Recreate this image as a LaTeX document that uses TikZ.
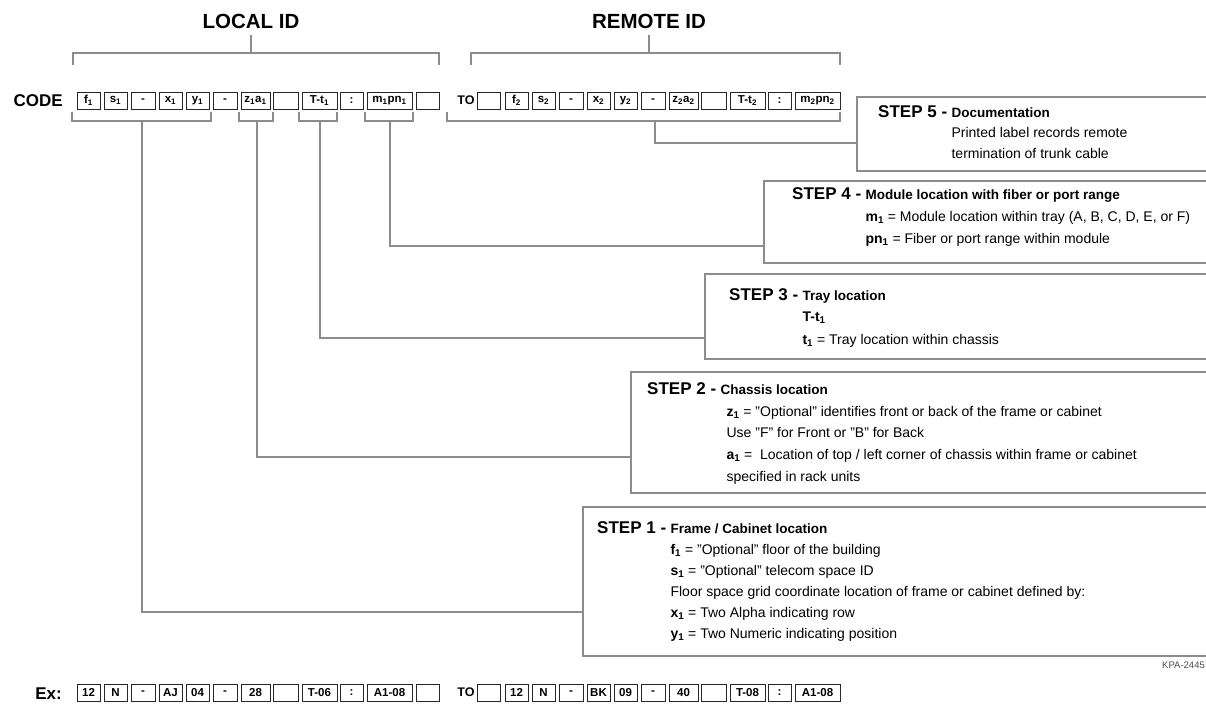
\documentclass[tikz,border=0pt]{standalone}
\usepackage{fontspec}
\setmainfont{Liberation Sans}
\newcommand\sbt[1]{\textsubscript{#1}}
\begin{document}
\begin{tikzpicture}[x=1pt,y=-1pt,
  cbx/.style={draw=black!85, line width=0.8pt, minimum height=17pt, inner sep=0pt,
    font=\fontsize{11.5}{13}\selectfont\bfseries},
  gline/.style={draw=black!45, line width=2pt},
  stepbox/.style={draw=black!45, line width=2pt, fill=white, inner sep=0pt, anchor=north west},
  steplbl/.style={font=\fontsize{17}{20}\selectfont\bfseries, inner sep=0pt, anchor=base west},
  steptitle/.style={font=\fontsize{13.5}{16}\selectfont\bfseries, inner sep=0pt, anchor=base west},
  body/.style={font=\fontsize{14}{17}\selectfont, inner sep=0pt, anchor=base west},
  big/.style={font=\fontsize{17}{20}\selectfont\bfseries, inner sep=0pt},
  head/.style={font=\fontsize{20.5}{24}\selectfont\bfseries, inner sep=0pt},
]
\useasboundingbox[fill=white] (0,0) rectangle (1206,704);

% ---------- headings ----------
\node[head] (lid) at (251,21) {LOCAL ID};
\node[head] (rid) at (649,21) {REMOTE ID};
\node[big, anchor=base east] (code) at (63,106.5) {CODE};
\node[big, anchor=base east] (ex) at (62,699) {Ex:};

% ---------- code row ----------
\foreach \nm/\cx/\w/\t in {
  c1/88.5/23/{f\sbt{1}}, c2/115.5/23/{s\sbt{1}}, c3/143/24/{-}, c4/170.5/23/{x\sbt{1}},
  c5/197.5/23/{y\sbt{1}}, c6/225/24/{-}, c7/255.5/29/{z\sbt{1}a\sbt{1}}, c8/285.5/25/{},
  c9/319.5/35/{T-t\sbt{1}}, c10/351.5/23/{:}, c11/389.5/45/{m\sbt{1}pn\sbt{1}}, c12/427.5/23/{},
  r0/488.5/23/{}, r1/516.5/23/{f\sbt{2}}, r2/543.5/23/{s\sbt{2}}, r3/571/24/{-},
  r4/598.5/23/{x\sbt{2}}, r5/625.5/23/{y\sbt{2}}, r6/653/24/{-}, r7/683.5/29/{z\sbt{2}a\sbt{2}},
  r8/713.5/25/{}, r9/747.5/35/{T-t\sbt{2}}, r10/779.5/23/{:}, r11/817.5/45/{m\sbt{2}pn\sbt{2}}}
  \node[cbx, minimum width=\w pt] (\nm) at (\cx,100.5) {\t};
\node[font=\fontsize{12.5}{14}\selectfont\bfseries, inner sep=0pt] (to) at (466,100.5) {TO};

% ---------- example row ----------
\foreach \nm/\cx/\w/\t in {
  e1/88.5/23/{12}, e2/115.5/23/{N}, e3/143/24/{-}, e4/170.5/23/{AJ},
  e5/197.5/23/{04}, e6/225/24/{-}, e7/255.5/29/{28}, e8/285.5/25/{},
  e9/319.5/35/{T-06}, e10/351.5/23/{:}, e11/389.5/45/{A1-08}, e12/427.5/23/{},
  f0/488.5/23/{}, f1/516.5/23/{12}, f2/543.5/23/{N}, f3/571/24/{-},
  f4/598.5/23/{BK}, f5/625.5/23/{09}, f6/653/24/{-}, f7/683.5/29/{40},
  f8/713.5/25/{}, f9/747.5/35/{T-08}, f10/779.5/23/{:}, f11/817.5/45/{A1-08}}
  \node[cbx, minimum width=\w pt] (\nm) at (\cx,692.5) {\t};
\node[font=\fontsize{12.5}{14}\selectfont\bfseries, inner sep=0pt] (to2) at (466,692.5) {TO};

% ---------- top brackets ----------
\draw[gline] (73,65) -- (73,53) -- (439,53) -- (439,65);
\draw[gline] (lid.south |- 0,35) -- (lid.south |- 0,53);
\draw[gline] (471,65) -- (471,53) -- (840,53) -- (840,65);
\draw[gline] (rid.south |- 0,35) -- (rid.south |- 0,53);

% ---------- step boxes ----------
\node[stepbox, minimum width=400pt, minimum height=74pt] (s5) at (856,96) {};
\node[stepbox, minimum width=480pt, minimum height=82pt] (s4) at (763,180) {};
\node[stepbox, minimum width=540pt, minimum height=85pt] (s3) at (704,273) {};
\node[stepbox, minimum width=600pt, minimum height=121pt] (s2) at (630,371) {};
\node[stepbox, minimum width=640pt, minimum height=149pt] (s1) at (582,506) {};

% ---------- bottom brackets and connectors ----------
\coordinate (k1) at (142,121); \coordinate (k2) at (257,121);
\coordinate (k3) at (320,121); \coordinate (k4) at (390,121);
\coordinate (k5) at (655,121);
\draw[gline] (72,112) -- (72,121) -- (211,121) -- (211,112);
\draw[gline] (239,112) -- (239,121) -- (273,121) -- (273,112);
\draw[gline] (299,112) -- (299,121) -- (337,121) -- (337,112);
\draw[gline] (365,112) -- (365,121) -- (413,121) -- (413,112);
\draw[gline] (447,112) -- (447,121) -- (840,121) -- (840,112);
\draw[gline] (k5) |- (s5.west |- 0,143);
\draw[gline] (k4) |- (s4.west |- 0,246);
\draw[gline] (k3) |- (s3.west |- 0,338);
\draw[gline] (k2) |- (s2.west |- 0,457);
\draw[gline] (k1) |- (s1.west |- 0,612);

% ---------- STEP 5 ----------
\node[steplbl] (l5) at (878,117) {STEP 5 -};
\node[steptitle] (t5) at ([xshift=4pt]l5.base east) {Documentation};
\node[body] at (t5.base west |- 0,137) {Printed label records remote};
\node[body] at (t5.base west |- 0,158) {termination of trunk cable};

% ---------- STEP 4 ----------
\node[steplbl] (l4) at (792,199) {STEP 4 -};
\node[steptitle] (t4) at ([xshift=4pt]l4.base east) {Module location with fiber or port range};
\node[body] at (t4.base west |- 0,221) {\textbf{m\sbt{1}} = Module location within tray (A, B, C, D, E, or F)};
\node[body] at (t4.base west |- 0,243) {\textbf{pn\sbt{1}} = Fiber or port range within module};

% ---------- STEP 3 ----------
\node[steplbl] (l3) at (729,300) {STEP 3 -};
\node[steptitle] (t3) at ([xshift=4pt]l3.base east) {Tray location};
\node[body] at (t3.base west |- 0,321) {\textbf{T-t\sbt{1}}};
\node[body] at (t3.base west |- 0,344) {\textbf{t\sbt{1}} = Tray location within chassis};

% ---------- STEP 2 ----------
\node[steplbl] (l2) at (647,394) {STEP 2 -};
\node[steptitle] (t2) at ([xshift=4pt]l2.base east) {Chassis location};
\coordinate (i2) at ([xshift=6pt]t2.base west);
\node[body] at (i2 |- 0,416) {\textbf{z\sbt{1}} = "Optional" identifies front or back of the frame or cabinet};
\node[body] at (i2 |- 0,437) {Use "F" for Front or "B" for Back};
\node[body] at (i2 |- 0,459) {\textbf{a\sbt{1}} = \ Location of top / left corner of chassis within frame or cabinet};
\node[body] at (i2 |- 0,481) {specified in rack units};

% ---------- STEP 1 ----------
\node[steplbl] (l1) at (597,533) {STEP 1 -};
\node[steptitle] (t1) at ([xshift=4pt]l1.base east) {Frame / Cabinet location};
\node[body] at (t1.base west |- 0,554) {\textbf{f\sbt{1}} = "Optional" floor of the building};
\node[body] at (t1.base west |- 0,575) {\textbf{s\sbt{1}} = "Optional" telecom space ID};
\node[body] at (t1.base west |- 0,596) {Floor space grid coordinate location of frame or cabinet defined by:};
\node[body] at (t1.base west |- 0,617) {\textbf{x\sbt{1}} = Two Alpha indicating row};
\node[body] at (t1.base west |- 0,638) {\textbf{y\sbt{1}} = Two Numeric indicating position};

% ---------- reference number ----------
\node[font=\fontsize{9.5}{11}\selectfont, text=black!70, inner sep=0pt, anchor=base east] (kpa) at (1205,668) {KPA-2445};
\end{tikzpicture}
\end{document}
